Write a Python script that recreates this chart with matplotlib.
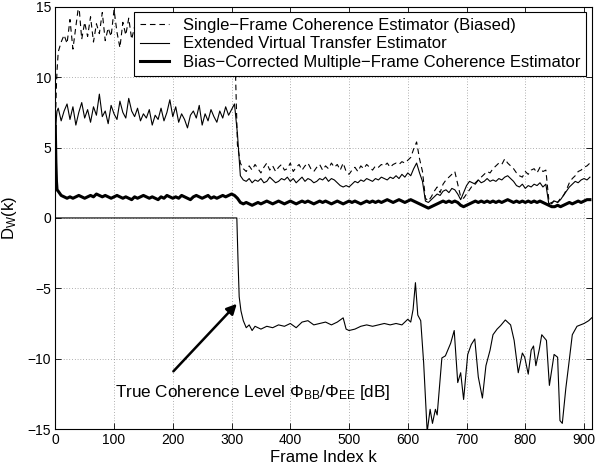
import matplotlib
matplotlib.use("Agg")
import matplotlib.pyplot as plt

plt.rcParams['font.family'] = ['Liberation Sans', 'DejaVu Sans']
plt.rcParams['mathtext.default'] = 'regular'

# frame indices shared by the three estimator curves
frames = [0, 1, 2, 3] + list(range(5, 915, 5))

single_biased = [
    6.5, 8.0, 9.5, 10.5,
    11.8, 12.5, 13.0, 12.4, 14.1, 12.0, 13.6, 15.2, 12.7, 13.9,
    12.9, 14.3, 12.5, 13.8, 13.1, 14.6, 12.6, 13.5, 12.9, 14.8,
    13.2, 12.1, 13.9, 13.0, 14.2, 12.7, 13.6, 12.4, 13.3, 14.5,
    12.8, 13.7, 12.9, 13.2, 14.0, 12.6, 13.4, 12.2, 13.8, 12.9,
    14.3, 13.1, 12.5, 13.6, 14.0, 12.8, 13.3, 12.3, 13.9, 13.0,
    14.4, 12.7, 13.5, 12.9, 13.8, 12.4, 13.6, 14.1, 12.8, 13.4,
    13.0, 5.2, 3.9, 3.5, 3.3, 3.7, 3.4, 3.8, 3.5, 3.2,
    3.6, 3.9, 3.4, 3.7, 3.3, 3.6, 3.8, 3.4, 3.5, 3.9,
    3.3, 3.6, 3.8, 3.4, 3.7, 3.9, 3.5, 3.3, 3.6, 3.8,
    3.4, 3.7, 3.5, 3.9, 3.6, 3.8, 3.4, 3.9, 3.3, 3.1,
    3.4, 3.6, 3.3, 3.7, 3.5, 3.8, 3.6, 3.4, 3.7, 3.6,
    3.8, 3.7, 3.9, 3.6, 3.8, 3.9, 3.8, 4.0, 3.9, 4.1,
    4.3, 4.9, 5.4, 4.2, 3.3, 1.4, 1.2, 1.5, 1.9, 2.2,
    1.8, 2.4, 2.7, 2.9, 3.1, 3.3, 2.4, 1.5, 1.4, 1.7,
    2.0, 2.3, 2.5, 2.7, 2.9, 3.1, 3.3, 3.2, 3.5, 3.7,
    3.9, 3.8, 4.2, 3.9, 3.7, 3.5, 3.2, 3.0, 2.9, 3.3,
    3.1, 3.4, 3.5, 3.2, 3.6, 3.3, 3.4, 1.3, 1.0, 1.3,
    1.1, 1.4, 1.6, 2.0, 2.5, 2.8, 3.0, 3.3, 3.4, 3.6,
    3.7, 3.9,
]

virtual_transfer = [
    6.0, 6.4, 7.2, 7.6,
    7.8, 6.9, 7.6, 8.1, 7.0, 7.9, 6.6, 7.5, 8.2, 7.1,
    7.7, 6.8, 7.9, 7.3, 8.8, 7.2, 7.6, 6.7, 8.0, 7.4,
    7.0, 8.3, 7.5, 7.1, 8.5, 7.6, 7.2, 7.8, 6.9, 7.4,
    7.1, 7.7, 6.6, 7.3, 7.0, 7.8, 6.9, 7.5, 8.4, 7.2,
    7.9, 6.8, 7.4, 7.0, 6.4, 7.3, 7.6, 7.1, 8.0, 6.6,
    7.4, 6.9, 7.7, 7.2, 6.8, 7.6, 7.1, 7.9, 7.3, 7.7,
    8.1, 6.0, 3.0, 2.7, 2.6, 2.8, 2.5, 2.7, 2.6, 2.8,
    2.5, 2.6, 2.9, 2.7, 2.5, 2.6, 2.8, 2.7, 2.9, 2.6,
    2.8, 2.5, 2.7, 2.9, 2.6, 2.8, 2.7, 2.5, 2.6, 2.8,
    2.7, 2.9, 2.6, 2.8, 2.7, 2.5, 2.3, 2.2, 2.3, 2.2,
    2.4, 2.6, 2.5, 2.7, 2.6, 2.8, 2.7, 2.6, 2.8, 2.7,
    2.9, 2.8, 2.7, 2.9, 2.8, 3.0, 2.8, 3.1, 2.9, 3.2,
    3.0, 3.5, 3.9, 3.2, 2.6, 1.2, 1.1, 1.3, 1.5, 1.7,
    1.6, 1.9, 2.0, 1.8, 2.1, 2.0, 1.7, 1.3, 1.8, 2.3,
    2.6, 2.5, 2.4, 2.7, 2.5, 2.6, 2.8, 2.6, 2.7, 2.6,
    2.8, 2.7, 2.9, 3.0, 2.8, 2.6, 2.3, 2.2, 2.4, 2.1,
    2.3, 2.2, 2.4, 2.3, 2.5, 2.2, 2.4, 1.0, 1.1, 1.2,
    1.1, 1.3, 1.6, 1.9, 2.2, 2.4, 2.6, 2.5, 2.7, 2.8,
    2.7, 2.9,
]

bias_corrected = [
    6.5, 4.0, 2.6, 2.0,
    1.9, 1.6, 1.5, 1.4, 1.5, 1.4, 1.5, 1.6, 1.5, 1.4,
    1.5, 1.6, 1.5, 1.7, 1.6, 1.5, 1.6, 1.5, 1.4, 1.5,
    1.6, 1.5, 1.4, 1.5, 1.4, 1.3, 1.5, 1.4, 1.5, 1.6,
    1.5, 1.4, 1.5, 1.4, 1.3, 1.5, 1.4, 1.6, 1.5, 1.4,
    1.5, 1.4, 1.6, 1.5, 1.4, 1.3, 1.5, 1.6, 1.5, 1.4,
    1.5, 1.6, 1.4, 1.5, 1.4, 1.5, 1.6, 1.5, 1.6, 1.7,
    1.6, 1.4, 1.1, 1.0, 1.1, 1.0, 0.9, 1.0, 1.1, 1.0,
    1.1, 1.2, 1.1, 1.0, 1.1, 1.2, 1.1, 1.0, 1.1, 1.2,
    1.1, 1.0, 1.1, 1.2, 1.1, 1.2, 1.1, 1.0, 1.1, 1.2,
    1.1, 1.2, 1.1, 1.0, 1.1, 1.2, 1.1, 1.0, 1.1, 1.2,
    1.1, 1.2, 1.1, 1.0, 1.1, 1.2, 1.1, 1.2, 1.1, 1.2,
    1.1, 1.2, 1.3, 1.2, 1.1, 1.2, 1.3, 1.2, 1.1, 1.2,
    1.3, 1.2, 1.1, 1.0, 0.9, 0.8, 0.7, 0.8, 0.9, 1.0,
    1.1, 1.2, 1.1, 1.2, 1.1, 1.2, 1.1, 0.9, 0.8, 0.9,
    1.0, 1.1, 1.2, 1.1, 1.2, 1.1, 1.2, 1.1, 1.2, 1.1,
    1.2, 1.1, 1.2, 1.3, 1.2, 1.1, 1.2, 1.1, 1.2, 1.1,
    1.2, 1.1, 1.2, 1.1, 1.2, 1.1, 1.0, 0.9, 0.8, 0.8,
    0.9, 0.8, 0.9, 1.0, 1.1, 1.0, 1.1, 1.2, 1.1, 1.2,
    1.3, 1.3,
]

# true coherence level in dB, at irregular frames
true_frames = [
    0, 309, 311, 313, 316, 320, 325, 330, 335, 340, 350, 360, 370, 380,
    390, 400, 410, 420, 430, 440, 450, 460, 470, 480, 490, 495, 500, 510,
    520, 530, 540, 550, 560, 570, 580, 590, 600, 605, 609, 613, 617, 622,
    627, 633, 638, 642, 647, 650, 658, 664, 673, 679, 685, 690, 695, 702,
    708, 714, 720, 727, 733, 740, 745, 752, 758, 766, 775, 781, 788, 795,
    799, 805, 810, 814, 818, 824, 828, 836, 841, 849, 855, 859, 863, 869,
    874, 880, 888, 900, 908, 913,
]
true_level = [
    0.0, 0.0, -3.0, -5.6, -6.6, -7.3, -7.8, -7.6, -8.0, -7.7, -7.9, -7.7, -7.8, -7.6,
    -7.7, -7.5, -7.8, -7.4, -7.3, -7.6, -7.5, -7.4, -7.6, -7.4, -7.1, -7.9, -8.0, -7.9,
    -7.7, -7.6, -7.7, -7.6, -7.5, -7.6, -7.5, -7.6, -7.2, -7.4, -6.5, -4.6, -6.9, -7.3,
    -10.3, -15.2, -13.6, -14.6, -13.6, -14.0, -9.95, -9.8, -8.9, -8.0, -11.7, -11.0, -12.9, -9.7,
    -9.0, -8.6, -11.3, -12.8, -10.5, -9.4, -8.3, -7.9, -7.65, -7.25, -7.6, -8.7, -11.0, -9.6,
    -9.9, -11.1, -9.4, -9.1, -10.5, -9.3, -8.3, -8.7, -11.9, -9.7, -9.9, -14.4, -14.6, -12.1,
    -10.4, -8.3, -7.7, -7.5, -7.3, -7.1,
]

assert len(frames) == len(single_biased) == len(virtual_transfer) == len(bias_corrected)
assert len(true_frames) == len(true_level)

fig = plt.figure(figsize=(6.01, 4.68), dpi=100)
ax = fig.add_axes([0.092, 0.0833, 0.8925, 0.902])

ax.plot(frames, single_biased, color='black', linestyle=(0, (5, 3.5)), linewidth=0.8,
        label='Single\u2212Frame Coherence Estimator (Biased)')
ax.plot(frames, virtual_transfer, color='black', linewidth=0.8,
        label='Extended Virtual Transfer Estimator')
ax.plot(frames, bias_corrected, color='black', linewidth=2.2,
        label='Bias\u2212Corrected Multiple\u2212Frame Coherence Estimator')
ax.plot(true_frames, true_level, color='black', linewidth=0.8)

ax.annotate('', xy=(309, -6.1), xytext=(201, -10.9),
            arrowprops=dict(arrowstyle='-|>', color='black', lw=1.8,
                            mutation_scale=15, shrinkA=0, shrinkB=0))
ax.text(102, -12.4, r'True Coherence Level $\Phi_{BB}/\Phi_{EE}$ [dB]',
        fontsize=12.3, va='center', ha='left')

ax.set_xlim(0, 913)
ax.set_ylim(-15, 15)
ax.set_xticks(range(0, 901, 100))
ax.set_yticks(range(-15, 16, 5))
ax.tick_params(direction='in', length=4, width=0.6, labelsize=10,
               top=True, right=True, pad=3)
ax.grid(True, color='black', linestyle=(0, (1, 3)), linewidth=0.5, alpha=0.6)
for spine in ax.spines.values():
    spine.set_linewidth(0.8)

ax.set_xlabel('Frame Index k', fontsize=12, labelpad=2)
ax.set_ylabel(r'D$_W$(k)', fontsize=12, labelpad=6)

leg = ax.legend(loc='upper right', fontsize=12, fancybox=False, framealpha=1,
                edgecolor='black', borderaxespad=0.32, handlelength=1.75,
                handletextpad=0.85, labelspacing=0.2, borderpad=0.35)
leg.get_frame().set_linewidth(0.8)

fig.savefig('out.png', dpi=100)
